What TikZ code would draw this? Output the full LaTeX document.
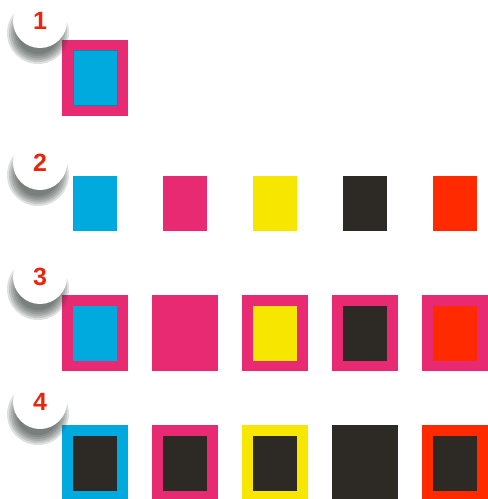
\documentclass[tikz,border=0pt]{standalone}
\usepackage{fontspec}
\setmainfont{Liberation Sans}

\definecolor{inkcyan}{HTML}{00A9DE}
\definecolor{inkmagenta}{HTML}{E72A72}
\definecolor{inkyellow}{HTML}{F6E600}
\definecolor{inkblack}{HTML}{2D2A26}
\definecolor{inkred}{HTML}{FF2A00}
\definecolor{badgered}{HTML}{E8260E}
\definecolor{shadowgray}{HTML}{2F3A35}

\begin{document}
\begin{tikzpicture}[x=1pt,y=-1pt,
    tile/.style={inner sep=0pt,minimum width=44pt,minimum height=55pt},
    frame/.style={inner sep=0pt,minimum width=66pt,minimum height=76pt},
    badge/.style={circle,fill=white,minimum size=54pt,inner sep=0pt,text=badgered,
      font=\bfseries\fontsize{25}{25}\selectfont},
    haze/.style={fill=shadowgray,opacity=0.16}]
  \useasboundingbox (0,0) rectangle (488,499);

  % row 1
  \node[frame,fill=inkmagenta] (r1) at (95,78) {};
  \node[tile,fill=inkcyan,draw=inkcyan!80!black,line width=0.4pt] (r1in) at (r1.center) {};

  % row 2
  \foreach \c [count=\i] in {inkcyan,inkmagenta,inkyellow,inkblack,inkred}
    \node[tile,fill=\c] (r2-\i) at (5+90*\i,203) {};

  % row 3
  \foreach \c [count=\i] in {inkcyan,inkmagenta,inkyellow,inkblack,inkred}{
    \node[frame,fill=inkmagenta] (r3-\i) at (5+90*\i,333) {};
    \node[tile,fill=\c] (r3in-\i) at (r3-\i.center) {};
  }

  % row 4
  \foreach \c [count=\i] in {inkcyan,inkmagenta,inkyellow,inkblack,inkred}{
    \node[frame,fill=\c] (r4-\i) at (5+90*\i,463) {};
    \node[tile,fill=inkblack] (r4in-\i) at (r4-\i.center) {};
  }

  % numbers (soft shadow under each badge)
  \foreach \y in {21,163,277,402}
    \foreach \r in {21,23,...,31}
      \fill[haze] (38,\y+12) circle[radius=\r];
  \node[badge] (n1) at (40,21) {1};
  \node[badge] (n2) at (40,163) {2};
  \node[badge] (n3) at (40,277) {3};
  \node[badge] (n4) at (40,402) {4};
\end{tikzpicture}
\end{document}
